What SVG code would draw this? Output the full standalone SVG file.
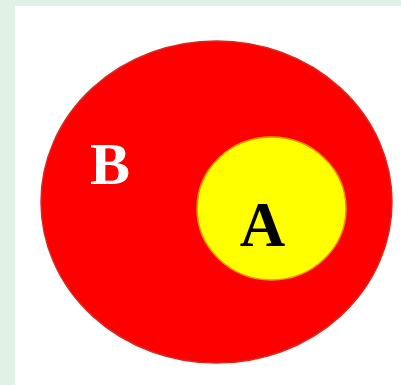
<svg xmlns="http://www.w3.org/2000/svg" width="401" height="385" viewBox="0 0 401 385">
<style>
.lbl{font-family:"Liberation Serif","Times New Roman",serif;font-weight:bold;}
</style>
<rect x="0" y="0" width="401" height="385" fill="#e0f1e6"/>
<rect x="15" y="6" width="386" height="379" fill="#ffffff"/>
<g id="B">
<ellipse cx="216.5" cy="202" rx="175.5" ry="161" fill="#fe0000" stroke="#d42a20" stroke-width="1.5"/>
<text class="lbl" x="90" y="184" font-size="60" fill="#ffffff">B</text>
</g>
<g id="A">
<ellipse cx="271.5" cy="208.5" rx="74.5" ry="71.5" fill="#ffff00" stroke="#f09000" stroke-width="1.5"/>
<text class="lbl" x="262.5" y="246" font-size="63" fill="#000000" text-anchor="middle">A</text>
</g>
</svg>
